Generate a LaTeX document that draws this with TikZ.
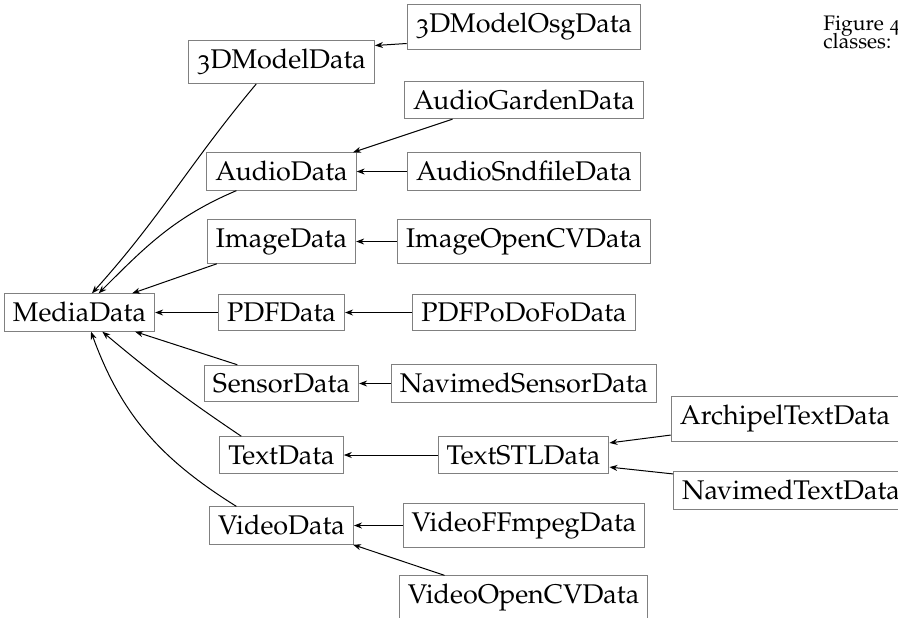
\documentclass[tikz,border=0pt]{standalone}
\usepackage[T1]{fontenc}
\usepackage[osf]{mathpazo}
\usetikzlibrary{arrows.meta}

\begin{document}
\begin{tikzpicture}[x=0.5pt, y=-0.5pt,
  cls/.style={rectangle, draw=black!50, line width=0.5pt, inner xsep=4.3pt, inner ysep=4.3pt, fill=white, font=\fontsize{13.5}{16}\selectfont},
  inh/.style={-{Stealth[length=4pt,width=3pt]}, line width=0.5pt, black},
  figtxt/.style={anchor=base west, inner sep=0pt, font=\fontsize{10.5}{12}\selectfont}
]
  \useasboundingbox (0,0) rectangle (898,617);
  \clip (0,0) rectangle (898,617);
  % margin caption, cut by the page edge
  \node[figtxt] (figno) at (823,30) {Figure 4};
  \node[figtxt] (figcls) at (823,48) {classes:};
  % root
  \node[cls] (media) at (79.5,312.5) {MediaData};
  % first level
  \node[cls] (model3d) at (281.5,62) {3DModelData};
  \node[cls] (audio) at (281.5,171.5) {AudioData};
  \node[cls] (image) at (281.5,241.5) {ImageData};
  \node[cls] (pdf) at (281.5,312.5) {PDFData};
  \node[cls] (sensor) at (281.5,383.5) {SensorData};
  \node[cls] (text) at (281.5,455) {TextData};
  \node[cls] (video) at (281.5,525.5) {VideoData};
  % second level
  \node[cls] (osg) at (524,27) {3DModelOsgData};
  \node[cls] (agarden) at (524,100) {AudioGardenData};
  \node[cls] (asnd) at (524,171.5) {AudioSndfileData};
  \node[cls] (imgcv) at (524,241.5) {ImageOpenCVData};
  \node[cls] (podofo) at (524,312.5) {PDFPoDoFoData};
  \node[cls] (nsensor) at (524,383.5) {NavimedSensorData};
  \node[cls] (stl) at (523.5,455) {TextSTLData};
  \node[cls] (vffmpeg) at (524,525.5) {VideoFFmpegData};
  \node[cls] (vocv) at (523.5,598) {VideoOpenCVData};
  % third level
  \node[cls] (archipel) at (785,419) {ArchipelTextData};
  \node[cls] (ntext) at (791,490.5) {NavimedTextData};

  \draw[inh] (model3d.221) to[out=-130,in=48] (media.57);
  \draw[inh] (audio.203) to[out=-157,in=45] (media.45);
  \draw[inh] (image.199) -- (media.20);
  \draw[inh] (pdf) -- (media);
  \draw[inh] (sensor.157) -- (media.-19);
  \draw[inh] (text.155) to[out=146,in=-40] (media.-40);
  \draw[inh] (video.157) to[out=148,in=-70] (media.-59);

  \draw[inh] (osg.188) -- (model3d.10);
  \draw[inh] (agarden.195) -- (audio.15);
  \draw[inh] (asnd) -- (audio);
  \draw[inh] (imgcv) -- (image);
  \draw[inh] (podofo) -- (pdf);
  \draw[inh] (nsensor) -- (sensor);
  \draw[inh] (stl) -- (text);
  \draw[inh] (vffmpeg) -- (video);
  \draw[inh] (vocv.164) -- (video.-15);

  \draw[inh] (archipel.188) -- (stl.8);
  \draw[inh] (ntext.172) -- (stl.-8);
\end{tikzpicture}
\end{document}
